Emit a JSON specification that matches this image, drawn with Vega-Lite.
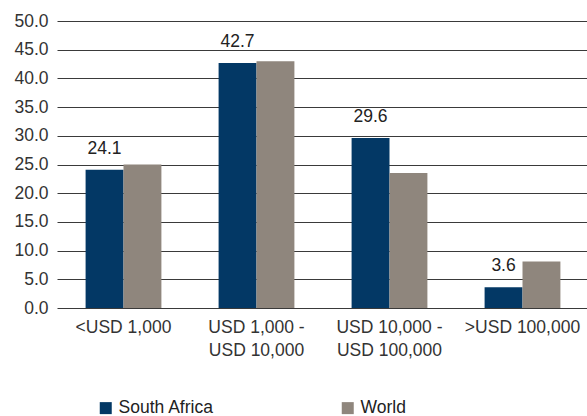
{
  "$schema": "https://vega.github.io/schema/vega-lite/v6.json",
  "width": 532,
  "height": 287,
  "autosize": {"type": "none"},
  "padding": {"left": 57, "top": 21, "right": 0, "bottom": 108},
  "background": "white",
  "config": {
    "font": "Liberation Sans",
    "view": {"stroke": null}
  },
  "data": {
    "values": [
      {"band": "<USD 1,000", "series": "South Africa", "value": 24.1, "label": "24.1"},
      {"band": "<USD 1,000", "series": "World", "value": 25.0, "label": ""},
      {"band": "USD 1,000 -|USD 10,000", "series": "South Africa", "value": 42.7, "label": "42.7"},
      {"band": "USD 1,000 -|USD 10,000", "series": "World", "value": 43.0, "label": ""},
      {"band": "USD 10,000 -|USD 100,000", "series": "South Africa", "value": 29.6, "label": "29.6"},
      {"band": "USD 10,000 -|USD 100,000", "series": "World", "value": 23.5, "label": ""},
      {"band": ">USD 100,000", "series": "South Africa", "value": 3.6, "label": "3.6"},
      {"band": ">USD 100,000", "series": "World", "value": 8.1, "label": ""}
    ]
  },
  "encoding": {
    "x": {
      "field": "band",
      "type": "nominal",
      "sort": ["<USD 1,000", "USD 1,000 -|USD 10,000", "USD 10,000 -|USD 100,000", ">USD 100,000"],
      "scale": {"paddingInner": 0.43, "paddingOuter": 0.215},
      "axis": {
        "title": null,
        "labelAngle": 0,
        "labelExpr": "split(datum.label, '|')",
        "labelFontSize": 17.5,
        "labelColor": "#333333",
        "labelPadding": 19,
        "labelLineHeight": 23,
        "labelBaseline": "middle",
        "labelOverlap": false,
        "ticks": false,
        "domain": false,
        "grid": false
      }
    },
    "xOffset": {
      "field": "series",
      "type": "nominal",
      "scale": {"domain": ["South Africa", "World"], "paddingInner": 0, "paddingOuter": 0}
    },
    "y": {
      "field": "value",
      "type": "quantitative",
      "scale": {"domain": [0, 50], "nice": false},
      "axis": {
        "title": null,
        "values": [0, 5, 10, 15, 20, 25, 30, 35, 40, 45, 50],
        "format": ".1f",
        "labelFontSize": 17.5,
        "labelColor": "#333333",
        "labelPadding": 9,
        "ticks": false,
        "domain": false,
        "grid": true,
        "gridColor": "#3a3a3a",
        "gridWidth": 1
      }
    }
  },
  "layer": [
    {
      "mark": {"type": "bar"},
      "encoding": {
        "color": {
          "field": "series",
          "type": "nominal",
          "scale": {"domain": ["South Africa", "World"], "range": ["#033865", "#8f867d"]},
          "legend": {
            "title": null,
            "orient": "none",
            "direction": "horizontal",
            "legendX": 40,
            "legendY": 378,
            "symbolType": "square",
            "symbolSize": 144,
            "symbolStrokeWidth": 0,
            "symbolOpacity": 1,
            "labelFontSize": 17.5,
            "labelColor": "#222222",
            "labelOffset": 4,
            "columnPadding": 125
          }
        }
      }
    },
    {
      "transform": [{"filter": "datum.series == 'South Africa'"}],
      "mark": {"type": "text", "baseline": "middle", "dy": -21, "fontSize": 17.5, "color": "#222222"},
      "encoding": {
        "text": {"field": "label"}
      }
    }
  ]
}
